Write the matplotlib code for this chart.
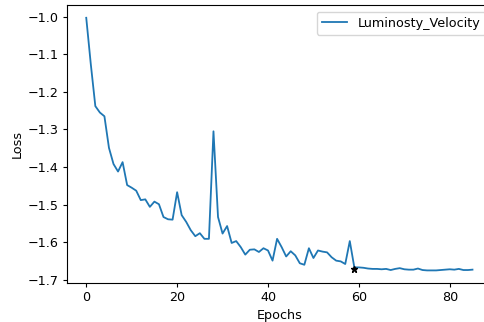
import numpy as np
import matplotlib
matplotlib.use('Agg')
import matplotlib.pyplot as plt

plt.rcParams['font.size'] = 9.2
plt.rcParams['xtick.major.size'] = 3
plt.rcParams['ytick.major.size'] = 3
plt.rcParams['xtick.major.pad'] = 3
plt.rcParams['ytick.major.pad'] = 3
plt.rcParams['axes.linewidth'] = 0.8

# loss per epoch
loss = [-1.003, -1.126, -1.238, -1.255, -1.265, -1.349, -1.392, -1.412, -1.387, -1.448,
        -1.455, -1.463, -1.488, -1.486, -1.506, -1.492, -1.499, -1.533, -1.539, -1.540,
        -1.467, -1.528, -1.546, -1.568, -1.584, -1.576, -1.591, -1.591, -1.305, -1.533,
        -1.577, -1.557, -1.602, -1.597, -1.613, -1.633, -1.620, -1.619, -1.626, -1.616,
        -1.622, -1.649, -1.591, -1.613, -1.638, -1.624, -1.635, -1.656, -1.660, -1.616,
        -1.642, -1.622, -1.625, -1.627, -1.640, -1.649, -1.651, -1.658, -1.597, -1.667,
        -1.667, -1.668, -1.670, -1.671, -1.671, -1.672, -1.671, -1.674, -1.671, -1.669,
        -1.672, -1.673, -1.673, -1.670, -1.674, -1.675, -1.675, -1.675, -1.674, -1.673,
        -1.672, -1.673, -1.671, -1.674, -1.674, -1.673]
epochs = np.arange(len(loss))
best_epoch = 59
best_loss = -1.67

fig = plt.figure(figsize=(4.85, 3.22), dpi=100)
ax = fig.add_axes([0.138, 0.121, 0.876, 0.863])
ax.plot(epochs, loss, color='#1f77b4', lw=1.3, label='Luminosty_Velocity')
ax.plot(best_epoch, best_loss, marker='*', color='black', markersize=5)
ax.set_xlabel('Epochs', labelpad=3)
ax.set_ylabel('Loss', labelpad=3)
ax.set_xticks([0, 20, 40, 60, 80])
ax.set_yticks([-1.0, -1.1, -1.2, -1.3, -1.4, -1.5, -1.6, -1.7])
ax.legend(loc='upper right')

fig.savefig('out.png', dpi=100)
